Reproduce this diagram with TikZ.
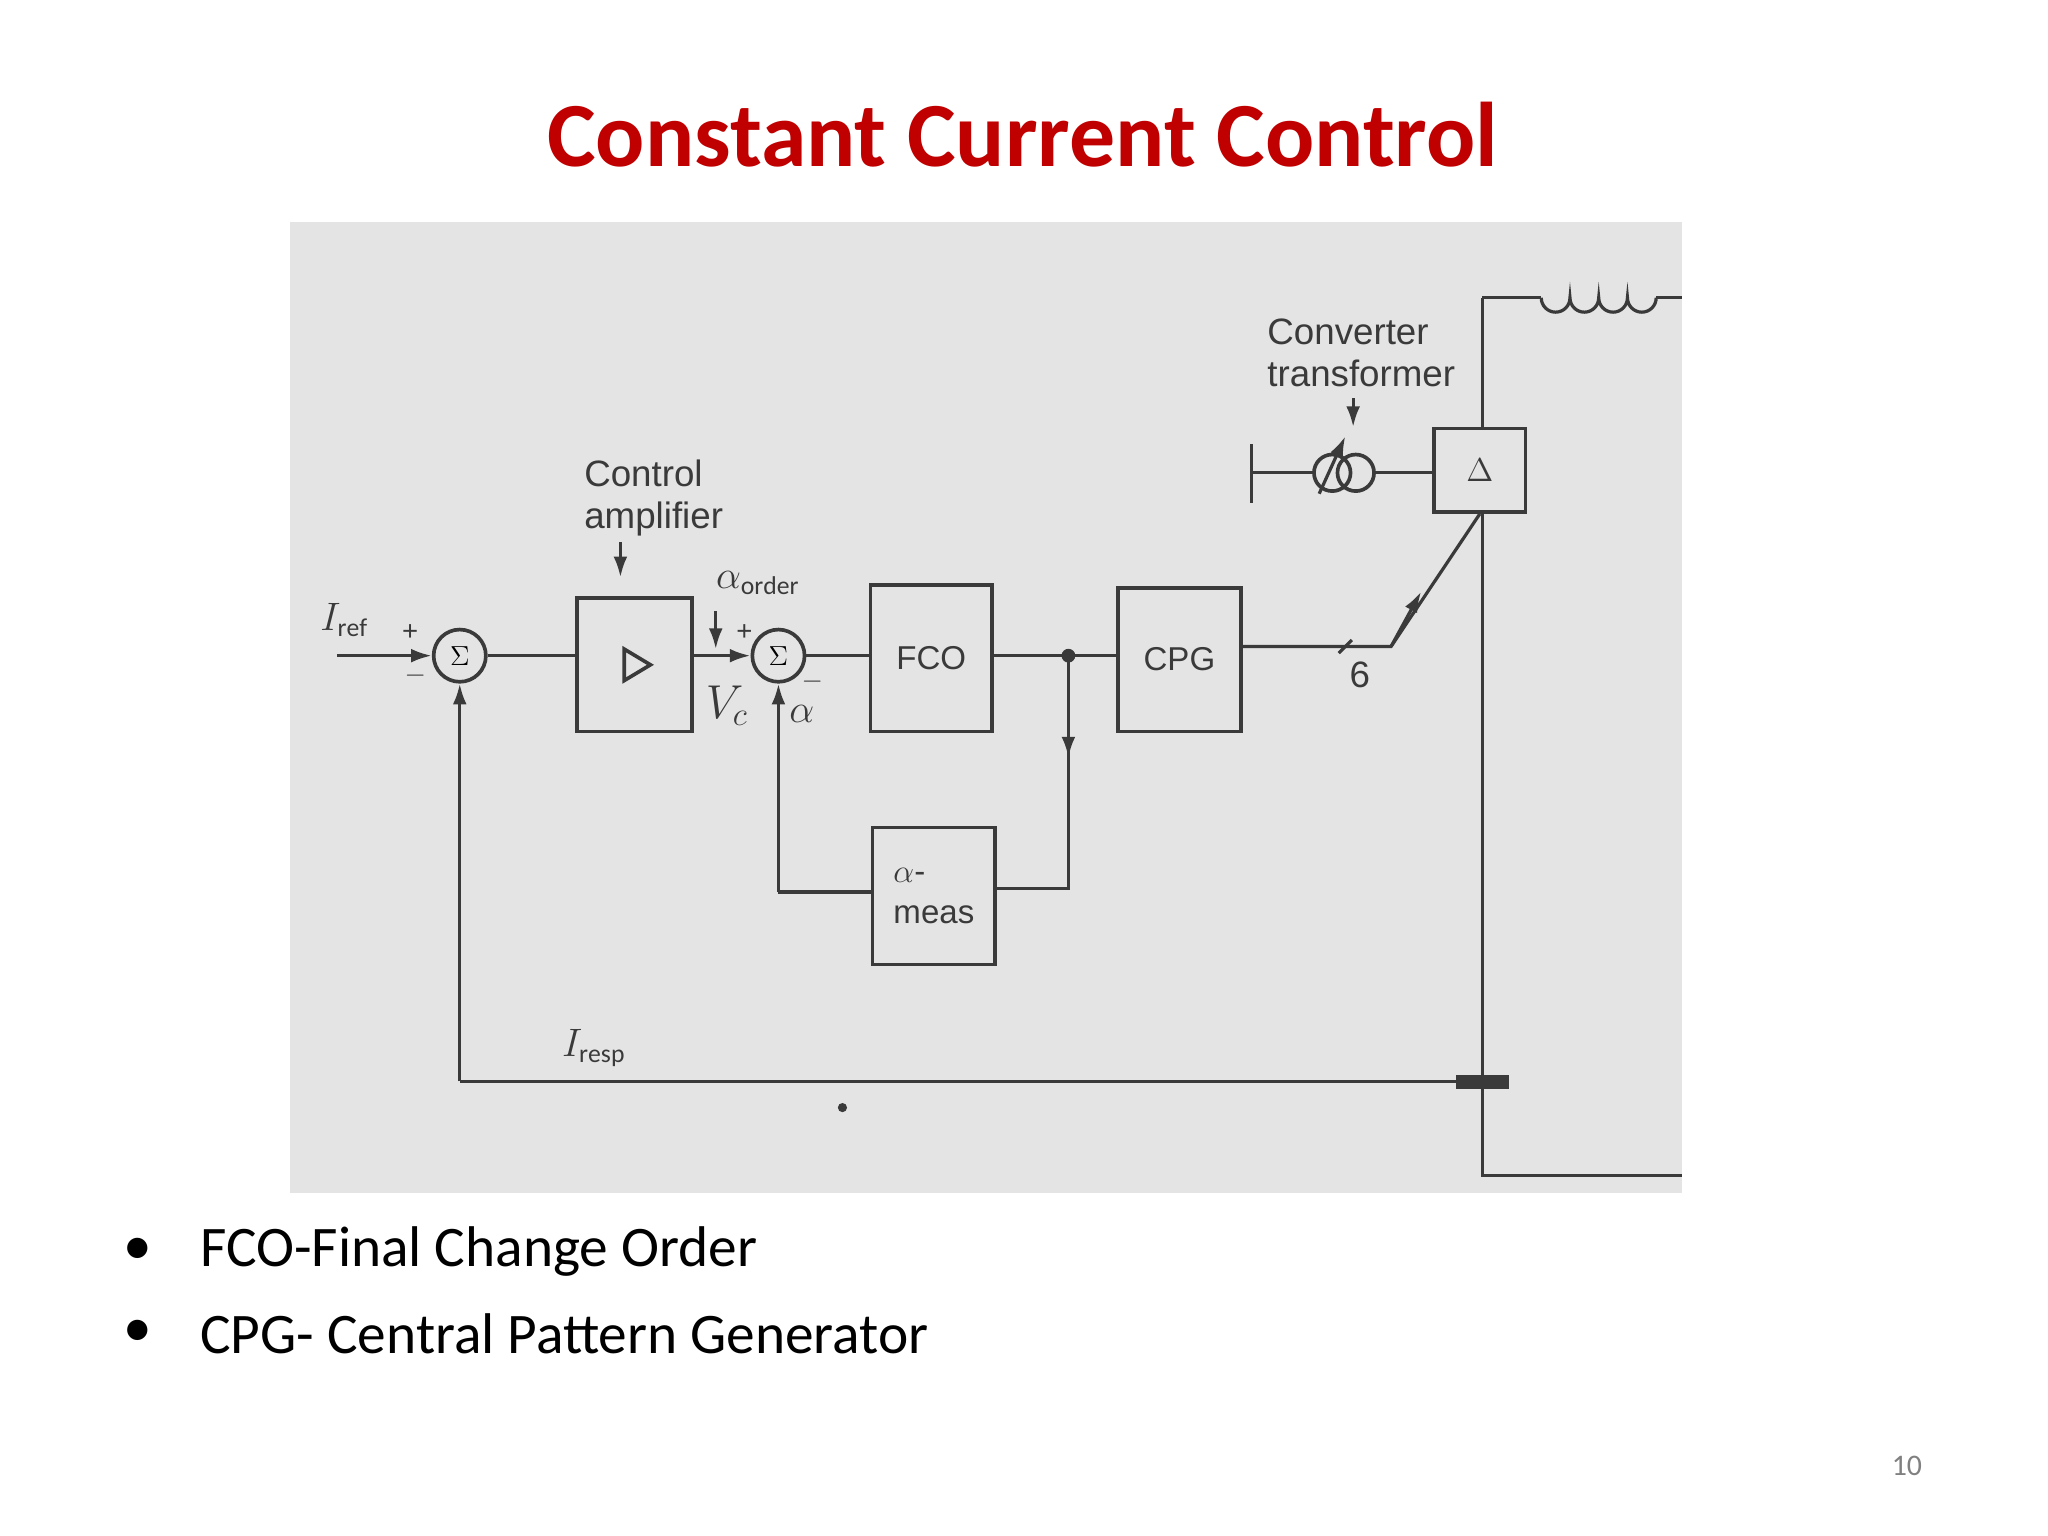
\documentclass[tikz,border=0pt]{standalone}
\usepackage{fontspec}
\setmainfont{Carlito}
\newfontfamily\dia{Liberation Sans}
\usetikzlibrary{arrows.meta,calc}
\definecolor{ttl}{HTML}{C00000}
\definecolor{pan}{HTML}{E3E4E3}
\definecolor{ln}{HTML}{3A3A3A}
\tikzset{
 blk/.style={draw=ln,line width=1.6pt},
 wire/.style={draw=ln,line width=1.4pt},
 arr/.style={wire,-{Latex[length=9pt,width=6pt]}},
 sumn/.style={circle,draw=ln,line width=1.6pt,minimum size=0.8cm,inner sep=0pt,font=\dia\large},
 lbl/.style={font=\dia\fontsize{16}{18}\selectfont,text=ln,align=left,anchor=north west,inner sep=0pt},
 bul/.style={font=\fontsize{25}{28}\selectfont,anchor=west,inner sep=0pt},
}
\begin{document}
\begin{tikzpicture}[x=0.02cm,y=-0.02cm]
\useasboundingbox (0,0) rectangle (1568,1176);
\fill[white] (0,0) rectangle (1568,1176);
\node[font=\bfseries\fontsize{40}{44}\selectfont,text=ttl] (title) at (783,103) {Constant Current Control};
\fill[pan] (222,170) rectangle (1288,913);
% bullets
\node[bul] (d1) at (94,958) {•};
\node[bul] (b1) at (153,958) {FCO-Final Change Order};
\node[bul] (d2) at (94,1021) {•};
\node[bul] (b2) at (153,1021) {CPG- Central Pattern Generator};
\node[font=\fontsize{13}{15}\selectfont,text=gray] (pg) at (1460,1122) {10};
% blocks
\node[sumn] (s1) at (352,502) {$\Sigma$};
\node[sumn] (s2) at (596,502) {$\Sigma$};
\node[blk,minimum width=1.76cm,minimum height=2.04cm] (amp) at (486,509) {};
\draw[blk] ($(amp.center)+(-8,-12)$) -- ++(20,12) -- ++(-20,12) -- cycle;
\node[blk,minimum width=1.86cm,minimum height=2.24cm,font=\dia\Large,text=ln] (fco) at (713,504) {FCO};
\node[blk,minimum width=1.88cm,minimum height=2.2cm,font=\dia\Large,text=ln] (cpg) at (903,505) {CPG};
\node[blk,minimum width=1.88cm,minimum height=2.1cm,font=\dia\Large,text=ln,align=left] (ameas) at (715,686) {$\alpha$-\\meas};
\node[blk,minimum width=1.4cm,minimum height=1.28cm,font=\dia\Large,text=ln] (dlt) at (1133,360) {$\Delta$};
% input
\coordinate (in) at (258,502);
\draw[arr] (in) -- (s1.west);
\node[lbl] at (245,462) {$I_{\mathrm{ref}}$};
\node[font=\dia\large,text=ln] at (314,484) {+};
\node[font=\dia\large,text=ln] at (318,517) {$-$};
\draw[wire] (s1.east) -- (s1.east -| amp.west);
\draw[arr] (s2.west -| amp.east) -- (s2.west);
\node[lbl] at (447,352) {Control\\amplifier};
\coordinate (ca1) at (475,415); \coordinate (ca2) at (475,442);
\draw[arr] (ca1) -- (ca2);
\node[lbl] at (548,437) {$\alpha_{\mathrm{order}}$};
\coordinate (ao1) at (548,468); \coordinate (ao2) at (548,497);
\draw[arr] (ao1) -- (ao2);
\node[font=\dia\large,text=ln] at (570,484) {+};
\node[font=\dia\large,text=ln] at (622,522) {$-$};
\node[lbl,font=\dia\fontsize{20}{22}\selectfont] at (540,525) {$V_c$};
\node[lbl] at (604,540) {$\alpha$};
\draw[wire] (s2.east) -- (s2.east -| fco.west);
\coordinate (j) at (818,502);
\draw[wire] (j -| fco.east) -- (j -| cpg.west);
\fill[ln] (j) circle (3pt);
\coordinate (jd) at (818,680);
\draw[wire] (j) -- (jd) -- (jd -| ameas.east);
\draw[arr] (818,540) -- (818,580);
\coordinate (al) at (596,683);
\draw[wire] (al -| ameas.west) -- (al);
\draw[arr] (al) -- (s2.south);
% CPG output
\coordinate (c1) at (1065,495);
\draw[wire] (cpg.east|-c1) -- (c1) -- (dlt.south);
\draw[arr] (1065,495) -- (1088,453);
\draw[wire] (1025,500) -- (1035,490);
\node[lbl] at (1033,506) {6};
% transformer
\coordinate (tb) at (958,362);
\draw[wire] (958,340) -- (958,385);
\draw[wire] (tb) -- (1006,362);
\draw[blk] (1020,362) circle (14); \draw[blk] (1038,362) circle (14);
\draw[wire] (1052,362) -- (1052,362 -| dlt.west);
\draw[arr] (1010,378) -- (1030,334);
\node[lbl] at (970,244) {Converter\\transformer};
\draw[arr] (1036,305) -- (1036,327);
% right side
\coordinate (r1) at (1135,228); \coordinate (r2) at (1135,900); \coordinate (r3) at (1288,900);
\draw[wire] (r1 |- dlt.north) -- (r1);
\draw[wire] (r1 |- dlt.south) -- (r2) -- (r3);
\draw[wire] (r1) -- (1180,228);
\draw[wire] (1180,228) arc (180:0:11) arc (180:0:11) arc (180:0:11) arc(180:0:11);
\draw[wire] (1268,228) -- (1288,228);
% feedback
\coordinate (f1) at (1135,828); \coordinate (f2) at (352,828);
\draw[wire] (f1) -- (f2);
\draw[arr] (f2) -- (s1.south);
\fill[ln] (1115,823) rectangle (1155,834);
\node[lbl] at (430,788) {$I_{\mathrm{resp}}$};
\fill[ln] (645,848) circle (2pt);
\end{tikzpicture}
\end{document}
